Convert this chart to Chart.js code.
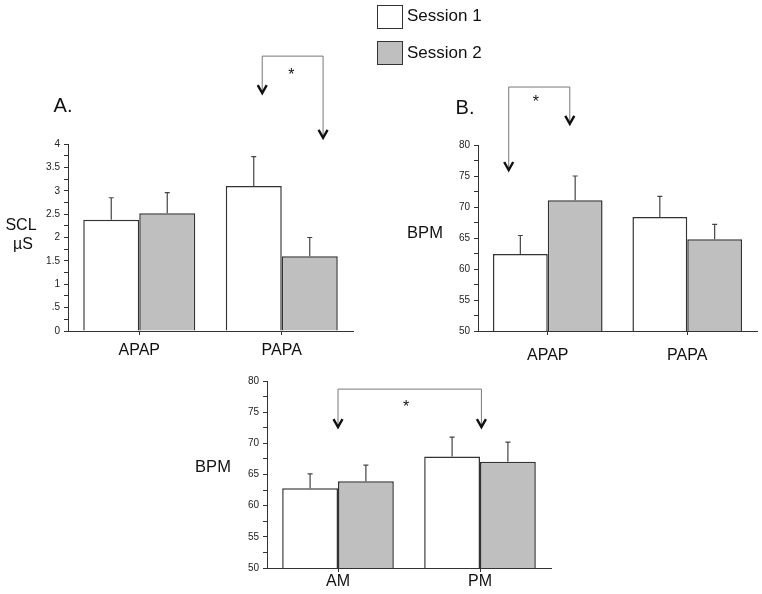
<!DOCTYPE html>
<html>
<head>
<meta charset="utf-8">
<script src="https://cdn.jsdelivr.net/npm/chart.js@4.4.1/dist/chart.umd.min.js"></script>
<style>
    body { margin: 0; background: #fff; width: 762px; height: 594px; position: relative; overflow: hidden; font-family: Arial, "Liberation Sans", sans-serif; color: #111; }
    canvas { position: absolute; }
    .lbl { position: absolute; transform: translate(-50%, -50%); white-space: nowrap; line-height: 1; }
    .leg { position: absolute; transform: translateY(-50%); white-space: nowrap; line-height: 1; font-size: 17px; }
    .box { position: absolute; width: 24px; height: 22px; border: 1px solid #333; }
</style>
</head>
<body>
<canvas id="sclChart" width="380" height="330" style="left:0;top:40px"></canvas>
<canvas id="bpmChart" width="382" height="330" style="left:380px;top:40px"></canvas>
<canvas id="timeChart" width="400" height="224" style="left:180px;top:370px"></canvas>

<div class="box" style="left:377px;top:5px;background:#fff"></div>
<div class="box" style="left:377px;top:41px;background:#bfbfbf"></div>
<div class="leg" style="left:407px;top:15px">Session 1</div>
<div class="leg" style="left:407px;top:52px">Session 2</div>

<div class="lbl" style="left:63px;top:105px;font-size:20px">A.</div>
<div class="lbl" style="left:465px;top:107px;font-size:20px">B.</div>
<div class="lbl" style="left:21px;top:225px;font-size:16px">SCL</div>
<div class="lbl" style="left:23px;top:244px;font-size:16px">µS</div>
<div class="lbl" style="left:425px;top:232px;font-size:16.5px">BPM</div>
<div class="lbl" style="left:213px;top:466px;font-size:16.5px">BPM</div>

<script>
// --- data ---
const orderCats = ["APAP", "PAPA"];
const timeCats = ["AM", "PM"];

// A. skin conductance (µS)
const sclSession1 = [2.38, 3.10];
const sclSession2 = [2.52, 1.60];
const sclErr1 = [0.47, 0.63];
const sclErr2 = [0.44, 0.40];

// B. heart rate by order
const bpmSession1 = [62.4, 68.4];
const bpmSession2 = [71.1, 64.8];
const bpmErr1 = [3.0, 3.3];
const bpmErr2 = [3.9, 2.4];

// C. heart rate by time of day
const timeSession1 = [62.8, 67.9];
const timeSession2 = [63.9, 67.05];
const timeErr1 = [2.3, 3.1];
const timeErr2 = [2.6, 3.15];

// tick labels
const sclTickLabels = { 0: "0", 0.5: ".5", 1: "1", 1.5: "1.5", 2: "2", 2.5: "2.5", 3: "3", 3.5: "3.5", 4: "4" };
const bpmTickLabels = { 50: "50", 55: "55", 60: "60", 65: "65", 70: "70", 75: "75", 80: "80" };

Chart.defaults.font.family = "Arial, 'Liberation Sans', sans-serif";
Chart.defaults.color = "#222";

// upward-only error bars with a small cap
const errorBarPlugin = {
    id: "errorBars",
    afterDatasetsDraw(chart) {
        const ctx = chart.ctx;
        const yScale = chart.scales.y;
        ctx.save();
        ctx.strokeStyle = "#444";
        ctx.lineWidth = 1.2;
        chart.data.datasets.forEach((ds, i) => {
            if (!ds.errors) return;
            chart.getDatasetMeta(i).data.forEach((bar, j) => {
                const top = yScale.getPixelForValue(ds.data[j] + ds.errors[j]);
                ctx.beginPath();
                ctx.moveTo(bar.x, bar.y);
                ctx.lineTo(bar.x, top);
                ctx.moveTo(bar.x - 2.5, top);
                ctx.lineTo(bar.x + 2.5, top);
                ctx.stroke();
            });
        });
        ctx.restore();
    }
};

function drawHead(ctx, x, y) {
    ctx.beginPath();
    ctx.moveTo(x - 4.5, y - 8);
    ctx.lineTo(x, y);
    ctx.lineTo(x + 4.5, y - 8);
    ctx.stroke();
}

// significance bracket with arrows, placed in axis units
const bracketPlugin = {
    id: "bracket",
    afterDraw(chart, args, opts) {
        if (!opts || opts.from === undefined) return;
        const xs = chart.scales.x, ys = chart.scales.y, ctx = chart.ctx;
        const x1 = xs.getPixelForValue(opts.from), x2 = xs.getPixelForValue(opts.to);
        const yTop = ys.getPixelForValue(opts.top);
        const t1 = ys.getPixelForValue(opts.tipFrom), t2 = ys.getPixelForValue(opts.tipTo);
        ctx.save();
        ctx.strokeStyle = "#777";
        ctx.lineWidth = 1;
        ctx.beginPath();
        ctx.moveTo(x1, t1); ctx.lineTo(x1, yTop); ctx.lineTo(x2, yTop); ctx.lineTo(x2, t2);
        ctx.stroke();
        ctx.strokeStyle = "#111";
        ctx.lineWidth = 2.4;
        drawHead(ctx, x1, t1);
        drawHead(ctx, x2, t2);
        ctx.fillStyle = "#111";
        ctx.font = "16px Arial";
        ctx.textAlign = "center";
        ctx.textBaseline = "middle";
        ctx.fillText("*", xs.getPixelForValue(opts.starX), ys.getPixelForValue(opts.starY) + 3);
        ctx.restore();
    }
};

function makeChart(id, cats, s1, s2, e1, e2, yCfg, layout, bracket) {
    const ctx = document.getElementById(id);
    return new Chart(ctx, {
        type: "bar",
        data: {
            labels: cats,
            datasets: [
                { label: "Session 1", data: s1, errors: e1, backgroundColor: "#fff", borderColor: "#333", borderWidth: 1.5 },
                { label: "Session 2", data: s2, errors: e2, backgroundColor: "#bfbfbf", borderColor: "#333", borderWidth: 1.5 }
            ]
        },
        options: {
            responsive: false,
            animation: false,
            events: [],
            layout: { padding: layout.padding },
            datasets: { bar: { barPercentage: 1, categoryPercentage: 0.786 } },
            plugins: { legend: { display: false }, tooltip: { enabled: false }, bracket: bracket },
            scales: {
                x: {
                    // fixed axis height so the plot area lands where the figure has it
                    afterFit: (s) => { s.height = layout.xHeight; },
                    grid: { drawOnChartArea: false, offset: false, tickLength: 4, color: "#333" },
                    border: { color: "#333", width: 1 },
                    ticks: { color: "#111", padding: layout.labelPad, font: { size: 16 } }
                },
                y: {
                    min: yCfg.min, max: yCfg.max, beginAtZero: false,
                    afterFit: (s) => { s.width = 30; },
                    grid: { drawOnChartArea: false, tickLength: 4, color: "#333" },
                    border: { color: "#333", width: 1 },
                    ticks: {
                        stepSize: yCfg.step, autoSkip: false, padding: 4, color: "#222", font: { size: 10 },
                        callback: (v) => (yCfg.labels[v] !== undefined ? yCfg.labels[v] : "")
                    }
                }
            }
        },
        plugins: [errorBarPlugin, bracketPlugin]
    });
}

document.addEventListener("DOMContentLoaded", () => {
    makeChart("sclChart", orderCats, sclSession1, sclSession2, sclErr1, sclErr2,
        { min: 0, max: 4, step: 0.25, labels: sclTickLabels },
        { padding: { left: 38, right: 27, top: 104, bottom: 0 }, xHeight: 39, labelPad: 6 },
        { from: 0.863, to: 1.29, top: 5.88, tipFrom: 5.09, tipTo: 4.13, starX: 1.067, starY: 5.52 });

    makeChart("bpmChart", orderCats, bpmSession1, bpmSession2, bpmErr1, bpmErr2,
        { min: 50, max: 80, step: 2.5, labels: bpmTickLabels },
        { padding: { left: 68, right: 5, top: 105, bottom: 0 }, xHeight: 39, labelPad: 11 },
        { from: -0.28, to: 0.158, top: 89.35, tipFrom: 75.97, tipTo: 83.4, starX: -0.086, starY: 87.4 });

    makeChart("timeChart", timeCats, timeSession1, timeSession2, timeErr1, timeErr2,
        { min: 50, max: 80, step: 2.5, labels: bpmTickLabels },
        { padding: { left: 57, right: 29, top: 11, bottom: 0 }, xHeight: 26, labelPad: 0 },
        { from: 0, to: 1.01, top: 78.7, tipFrom: 72.6, tipTo: 72.6, starX: 0.48, starY: 76.15 });
});
</script>
</body>
</html>
